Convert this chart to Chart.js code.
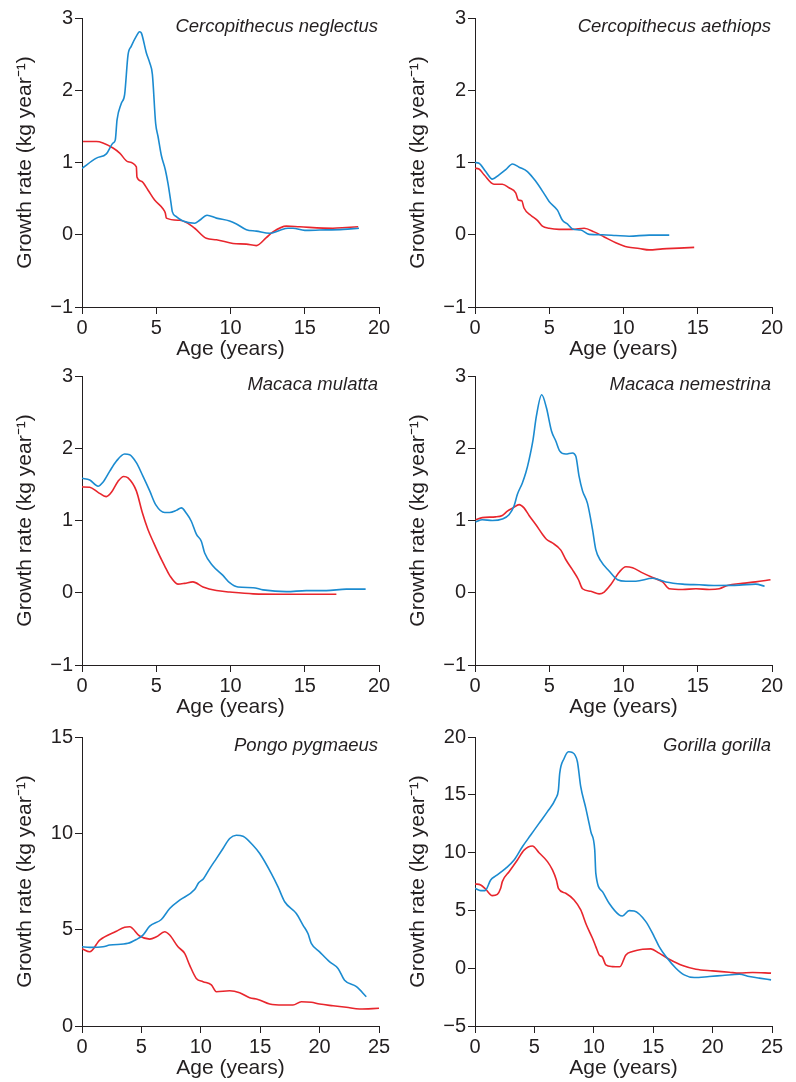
<!DOCTYPE html>
<html>
<head>
<meta charset="utf-8">
<script src="https://cdn.jsdelivr.net/npm/chart.js@4.4.1/dist/chart.umd.min.js"></script>
<style>
  body { margin: 0; background: #fff; }
  #wrap { position: relative; width: 796px; height: 1082px; }
  #wrap canvas { position: absolute; }
</style>
</head>
<body>
<div id="wrap"></div>
<script>
// panel settings
const species = ['Cercopithecus neglectus', 'Cercopithecus aethiops', 'Macaca mulatta',
                 'Macaca nemestrina', 'Pongo pygmaeus', 'Gorilla gorilla'];
const xMax = [20, 20, 20, 20, 25, 25];
const yMin = [-1, -1, -1, -1, 0, -5];
const yMax = [3, 3, 3, 3, 15, 20];
const yStep = [1, 1, 1, 1, 5, 5];

// [age, growth rate]
const neglectusBlue = [[0,0.92],[0.97,1.06],[1.64,1.12],[2.09,1.27],[2.24,1.31],[2.36,1.59],[2.65,1.82],[2.87,1.94],
  [3.1,2.49],[3.32,2.61],[3.66,2.75],[3.88,2.81],[4.0,2.79],[4.33,2.52],[4.56,2.38],[4.74,2.22],[4.96,1.54],
  [5.12,1.36],[5.34,1.1],[5.61,0.9],[5.79,0.71],[6.0,0.43],[6.08,0.32],[6.35,0.25],[6.8,0.19],[7.59,0.16],
  [7.92,0.2],[8.42,0.27],[9.05,0.23],[9.94,0.19],[10.4,0.15],[11.07,0.07],[11.74,0.05],[12.64,0.02],[13.3,0.06],
  [13.87,0.09],[14.2,0.09],[15.0,0.06],[16.0,0.065],[17.6,0.075],[18.65,0.09]];
const neglectusRed = [[0.07,1.29],[0.97,1.29],[1.41,1.27],[2.09,1.2],[2.54,1.13],[3.1,1.01],[3.66,0.94],[3.7,0.8],
  [4.0,0.74],[4.44,0.62],[4.89,0.48],[5.45,0.36],[5.61,0.3],[5.68,0.23],[6.58,0.2],[7.03,0.17],[7.59,0.09],
  [8.37,-0.05],[9.05,-0.07],[10.17,-0.12],[11.07,-0.13],[11.74,-0.15],[12.41,-0.04],[12.86,0.04],[13.76,0.12],
  [14.66,0.11],[16.9,0.09],[17.8,0.1],[18.6,0.11]];

const aethiopsBlue = [[0,1.0],[0.27,0.99],[0.72,0.875],[1.17,0.77],[1.62,0.83],[2.07,0.9],[2.52,0.98],[2.97,0.935],
  [3.53,0.875],[4.09,0.74],[4.65,0.57],[4.99,0.46],[5.55,0.34],[5.89,0.2],[6.22,0.15],[6.56,0.08],[7.12,0.065],
  [7.69,0.005],[8.58,0],[9.48,-0.01],[10.38,-0.02],[11.73,-0.005],[13.08,-0.005]];
const aethiopsRed = [[0,0.92],[0.27,0.91],[0.61,0.83],[1.28,0.7],[1.84,0.7],[2.29,0.65],[2.74,0.58],[2.92,0.48],
  [3.15,0.47],[3.3,0.37],[3.75,0.27],[4.2,0.2],[4.54,0.12],[4.99,0.09],[5.66,0.075],[6.56,0.075],[7.35,0.09],
  [8.02,0.04],[8.7,-0.03],[9.48,-0.11],[10.27,-0.17],[11.06,-0.19],[11.73,-0.21],[12.63,-0.195],[13.75,-0.185],
  [14.76,-0.175]];

const mulattaBlue = [[0,1.585],[0.52,1.56],[1.08,1.475],[1.41,1.53],[1.86,1.68],[2.31,1.82],[2.87,1.92],[3.21,1.91],
  [3.66,1.8],[4.11,1.61],[4.56,1.41],[4.96,1.22],[5.57,1.11],[5.9,1.11],[6.35,1.14],[6.69,1.175],[7.03,1.1],
  [7.36,0.99],[7.7,0.81],[8.04,0.71],[8.26,0.55],[8.82,0.37],[9.49,0.24],[9.94,0.14],[10.5,0.08],[11.52,0.07],
  [12.19,0.04],[13.76,0.015],[15.1,0.03],[16.45,0.03],[17.8,0.05],[19.1,0.05]];
const mulattaRed = [[0,1.465],[0.52,1.46],[1.08,1.39],[1.64,1.33],[1.98,1.39],[2.42,1.54],[2.8,1.61],[3.1,1.59],
  [3.66,1.41],[4.06,1.11],[4.44,0.875],[4.83,0.69],[5.23,0.51],[5.57,0.37],[5.9,0.24],[6.46,0.12],[6.91,0.13],
  [7.47,0.15],[8.15,0.08],[9.05,0.03],[9.94,0.01],[11.52,-0.015],[13.54,-0.02],[15.78,-0.02],[17.13,-0.02]];

const nemestrinaBlue = [[0.04,0.98],[0.49,1.01],[1.17,1.0],[1.84,1.02],[2.29,1.08],[2.63,1.2],[2.85,1.36],[3.19,1.52],
  [3.42,1.66],[3.64,1.84],[3.91,2.12],[4.13,2.44],[4.49,2.74],[4.81,2.56],[5.15,2.24],[5.44,2.1],[5.71,1.96],
  [6.11,1.92],[6.56,1.935],[6.79,1.89],[7.01,1.61],[7.24,1.41],[7.57,1.24],[7.91,0.88],[8.13,0.6],[8.47,0.44],
  [9.03,0.3],[9.6,0.18],[10.16,0.16],[10.83,0.16],[11.96,0.2],[12.85,0.15],[13.98,0.12],[15.1,0.11],[16.22,0.1],
  [17.8,0.105],[18.9,0.12],[19.5,0.09]];
const nemestrinaRed = [[0.04,1.01],[0.49,1.04],[1.39,1.05],[1.84,1.07],[2.18,1.13],[2.56,1.175],[2.97,1.22],[3.3,1.175],
  [3.64,1.07],[4.09,0.945],[4.54,0.81],[4.81,0.74],[5.21,0.69],[5.78,0.59],[6.11,0.46],[6.56,0.32],[6.97,0.18],
  [7.24,0.055],[7.8,0.02],[8.36,-0.015],[8.7,0.01],[9.15,0.115],[9.71,0.285],[10.16,0.36],[10.61,0.345],
  [11.28,0.275],[11.96,0.21],[12.63,0.15],[13.08,0.055],[13.98,0.045],[14.88,0.055],[15.78,0.045],[16.45,0.055],
  [17.0,0.1],[18.0,0.13],[18.9,0.15],[19.9,0.18]];

const pongoBlue = [[0,4.11],[0.65,4.08],[1.77,4.11],[2.33,4.2],[3.87,4.29],[4.57,4.49],[5.13,4.72],[5.7,5.18],
  [6.68,5.53],[7.38,6.1],[8.22,6.53],[9.48,7.08],[9.82,7.43],[10.24,7.66],[10.75,8.17],[11.31,8.69],[11.87,9.21],
  [12.43,9.73],[12.99,9.9],[13.55,9.85],[14.39,9.38],[14.96,8.95],[15.94,7.91],[16.5,7.22],[17.06,6.45],
  [18.04,5.84],[18.6,5.24],[19.02,4.8],[19.3,4.29],[20.0,3.85],[20.85,3.33],[21.55,2.99],[22.1,2.38],[23.1,2.04],
  [23.93,1.52]];
const pongoRed = [[0,4.01],[0.65,3.85],[1.49,4.46],[2.89,4.92],[3.59,5.12],[4.01,5.15],[4.85,4.67],[5.7,4.51],
  [6.26,4.63],[6.96,4.89],[7.38,4.72],[8.08,4.11],[8.64,3.77],[9.06,3.16],[9.62,2.47],[10.19,2.3],[10.89,2.13],
  [11.31,1.78],[12.43,1.83],[13.27,1.73],[14.11,1.47],[14.81,1.38],[15.8,1.14],[16.92,1.09],[17.76,1.09],
  [18.46,1.26],[19.3,1.23],[20.0,1.14],[21.13,1.05],[22.25,0.97],[23.37,0.88],[25,0.92]];

const gorillaBlue = [[0,6.91],[0.48,6.71],[0.84,6.71],[1.32,7.63],[1.74,7.98],[2.58,8.64],[3.29,9.36],[3.99,10.51],
  [4.69,11.52],[5.39,12.53],[6.1,13.54],[6.8,14.69],[7.02,15.41],[7.13,16.85],[7.5,18.14],[7.87,18.72],[8.2,18.66],
  [8.62,17.86],[8.9,15.7],[9.33,13.83],[9.75,11.81],[10.08,10.22],[10.17,8.21],[10.73,6.62],[11.29,5.62],
  [12.13,4.61],[12.41,4.52],[12.98,4.98],[13.4,4.95],[14.38,4.03],[15.08,2.74],[15.5,1.87],[16.07,1.01],[16.91,0],
  [17.61,-0.58],[18.46,-0.81],[19.72,-0.72],[20.84,-0.63],[22.25,-0.52],[23.09,-0.72],[23.93,-0.86],[24.92,-1.01]];
const gorillaRed = [[0,7.29],[0.48,7.2],[0.9,6.83],[1.46,6.28],[1.88,6.39],[2.16,6.91],[2.3,7.49],[2.87,8.35],
  [3.57,9.36],[4.13,10.22],[4.83,10.57],[5.39,9.99],[6.1,9.22],[6.52,8.5],[6.85,7.63],[7.02,6.91],[7.64,6.48],
  [8.34,5.9],[8.9,5.04],[9.38,3.74],[9.89,2.59],[10.17,1.87],[10.45,1.15],[10.73,0.95],[11.01,0.29],[11.57,0.14],
  [12.19,0.12],[12.7,1.15],[13.26,1.44],[14.1,1.64],[14.8,1.67],[15.5,1.3],[16.35,0.78],[17.47,0.23],[18.6,-0.09],
  [20.0,-0.23],[21.4,-0.35],[22.25,-0.43],[23.37,-0.37],[24.92,-0.43]];

const blueSeries = [neglectusBlue, aethiopsBlue, mulattaBlue, nemestrinaBlue, pongoBlue, gorillaBlue];
const redSeries = [neglectusRed, aethiopsRed, mulattaRed, nemestrinaRed, pongoRed, gorillaRed];

const ink = '#231f20';
const fam = '"Liberation Sans", Arial, Helvetica, sans-serif';
const panelLeft = [0, 393];
const panelTop = [0, 358, 719];

// italic species name in the top right corner
const speciesLabel = {
    id: 'speciesLabel',
    afterDraw(chart, args, opts) {
        const ctx = chart.ctx;
        const area = chart.chartArea;
        ctx.save();
        ctx.font = 'italic 18.5px ' + fam;
        ctx.fillStyle = ink;
        ctx.textAlign = 'right';
        ctx.textBaseline = 'alphabetic';
        ctx.fillText(opts.text, area.right - 1, area.top + 14);
        ctx.restore();
    }
};

function toPoints(pairs) {
    return pairs.map(p => ({x: p[0], y: p[1]}));
}

function minusSign(v) {
    return v < 0 ? '\u2212' + Math.abs(v) : '' + v;
}

const wrap = document.getElementById('wrap');

for (let i = 0; i < species.length; i++) {
    const canvas = document.createElement('canvas');
    canvas.width = 397;
    canvas.height = 362;
    canvas.style.left = panelLeft[i % 2] + 'px';
    canvas.style.top = panelTop[Math.floor(i / 2)] + 'px';
    wrap.appendChild(canvas);

    new Chart(canvas.getContext('2d'), {
        type: 'line',
        data: {
            datasets: [
                {
                    data: toPoints(blueSeries[i]),
                    borderColor: '#1b8bd0',
                    borderWidth: 1.6,
                    pointRadius: 0,
                    cubicInterpolationMode: 'monotone'
                },
                {
                    data: toPoints(redSeries[i]),
                    borderColor: '#e8262d',
                    borderWidth: 1.6,
                    pointRadius: 0,
                    cubicInterpolationMode: 'monotone'
                }
            ]
        },
        options: {
            responsive: false,
            animation: false,
            layout: {padding: {left: 0, top: 18, right: 18, bottom: 0}},
            plugins: {
                legend: {display: false},
                tooltip: {enabled: false},
                speciesLabel: {text: species[i]}
            },
            scales: {
                x: {
                    type: 'linear',
                    min: 0,
                    max: xMax[i],
                    ticks: {stepSize: 5, color: ink, font: {size: 20, family: fam}, padding: 2, maxRotation: 0},
                    grid: {drawOnChartArea: false, tickLength: 7, color: ink},
                    border: {color: ink, width: 1},
                    title: {display: true, text: 'Age (years)', color: ink, font: {size: 21, family: fam}, padding: 0},
                    afterFit(s) { s.height = 55; }
                },
                y: {
                    type: 'linear',
                    min: yMin[i],
                    max: yMax[i],
                    ticks: {stepSize: yStep[i], color: ink, font: {size: 20, family: fam}, padding: 2,
                            callback: minusSign},
                    grid: {drawOnChartArea: false, tickLength: 7, color: ink},
                    border: {color: ink, width: 1},
                    title: {display: true, text: 'Growth rate (kg year\u207B\u00B9)', color: ink,
                            font: {size: 21, family: fam}, padding: {top: 13, bottom: 0}},
                    afterFit(s) { s.width = 82; }
                }
            }
        },
        plugins: [speciesLabel]
    });
}
</script>
</body>
</html>
